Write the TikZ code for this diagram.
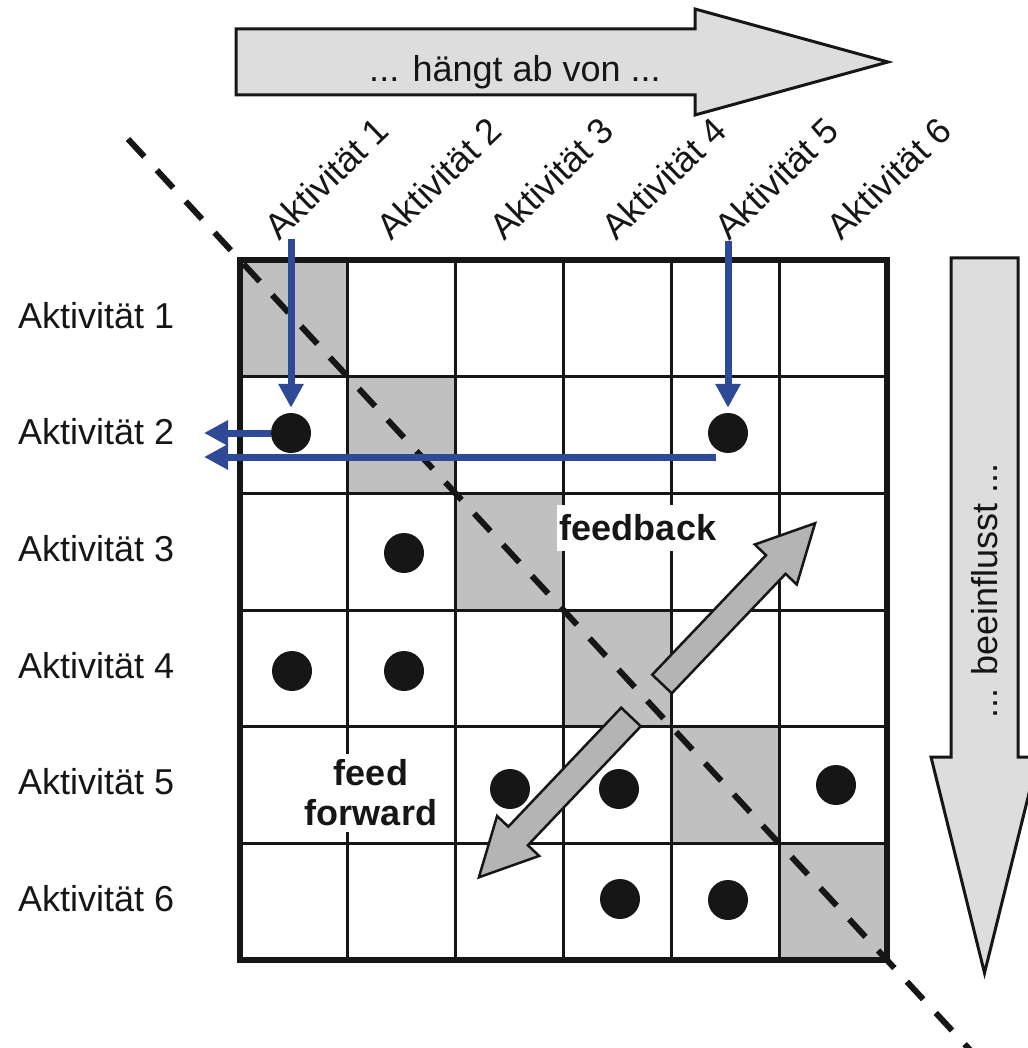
\documentclass[tikz,border=0pt]{standalone}
\usepackage{fontspec}
\setmainfont{Liberation Sans}
\usetikzlibrary{arrows.meta,calc}
\definecolor{bluearr}{RGB}{46,74,150}
\definecolor{diagfill}{RGB}{192,192,192}
\definecolor{bigfill}{RGB}{180,180,180}
\definecolor{lightfill}{RGB}{221,221,221}
\definecolor{dotfill}{RGB}{22,22,22}
\begin{document}
\begin{tikzpicture}[x=1pt,y=-1pt,
  txt/.style={font=\fontsize{36}{40}\selectfont, inner sep=0pt, text=dotfill},
  boldtxt/.style={font=\fontsize{36}{40}\selectfont\bfseries, text=dotfill},
  dot/.style={circle, fill=dotfill, minimum size=40pt, inner sep=0pt},
  gridline/.style={line width=3pt, draw=dotfill},
  bluearrow/.style={draw=bluearr, line width=7pt, -{Triangle[length=24pt,width=24pt]}},
  bigarrow/.style={draw=dotfill, line width=2.5pt, fill=bigfill, line join=miter},
  bandarrow/.style={draw=dotfill, line width=3pt, fill=lightfill, line join=miter},
  diagline/.style={draw=dotfill, line width=6pt, dash pattern=on 24pt off 18.5pt}
]
\useasboundingbox (0,0) rectangle (1027,1048);

% grid
\begin{scope}[shift={(240,260)}, x=107.83pt, y=-116.67pt]
  \foreach \i in {1,...,6} \fill[diagfill] (\i-1,\i-1) rectangle (\i,\i);
  \foreach \k in {1,...,5} {\draw[gridline] (\k,0) -- (\k,6); \draw[gridline] (0,\k) -- (6,\k);}
  \draw[line width=6pt, draw=dotfill] (0,0) rectangle (6,6);
\end{scope}

% diagonal
\coordinate (dstart) at (128,139);
\coordinate (dend) at (971,1051);
\draw[diagline] (dstart) -- (dend);

% top arrow
\draw[bandarrow] (236,29) -- (695,29) -- (695,9) -- (888,62) -- (695,115) -- (695,95) -- (236,95) -- cycle;
\node[txt, anchor=base] (hangt) at (515,82) {... hängt ab von ...};

% right arrow
\draw[bandarrow] (951,258) -- (1018,258) -- (1018,757) -- (1038,757) -- (984.5,973) -- (931,757) -- (951,757) -- cycle;
\node[txt, rotate=90] (beein) at (985,591) {... beeinflusst ...};

% row labels
\foreach \r in {1,...,6} \node[txt, anchor=base west] (row\r) at (18, {328.3+(\r-1)*116.67}) {Aktivität \r};
% column labels
\foreach \c in {1,...,6} \node[txt, anchor=base west, rotate=44] (col\c) at ({279+(\c-1)*112.5}, 242) {Aktivität \c};

% dots
\node[dot] (d21) at (291,433) {};
\node[dot] (d25) at (728,433) {};
\node[dot] (d32) at (404,553) {};
\node[dot] (d41) at (292,671) {};
\node[dot] (d42) at (404,671) {};
\node[dot] (d53) at (510,789) {};
\node[dot] (d54) at (619,789) {};
\node[dot] (d56) at (836,785) {};
\node[dot] (d64) at (620,899) {};
\node[dot] (d65) at (728,900) {};

% blue arrows
\coordinate (in1) at (291,239);
\coordinate (in5) at (728,241);
\coordinate (out1) at (204,433);
\coordinate (out2) at (204,457);
\coordinate (fbfrom) at (716,457);
\draw[bluearrow, shorten >=5pt] (in1) -- (d21.north);
\draw[bluearrow, shorten >=5pt] (in5) -- (d25.north);
\draw[bluearrow] (d21.west) -- (out1);
\draw[bluearrow] (fbfrom) -- (out2);

% big arrows
\begin{scope}[shift={(662,684)}, rotate=46.4]
\draw[bigarrow] (0,-13.5) -- (165,-13.5) -- (165,-29) -- (222,0) -- (165,29) -- (165,13.5) -- (0,13.5) -- cycle;
\end{scope}
\begin{scope}[shift={(631,717)}, rotate=226.5]
\draw[bigarrow] (0,-13.5) -- (164,-13.5) -- (164,-29) -- (221,0) -- (164,29) -- (164,13.5) -- (0,13.5) -- cycle;
\end{scope}

% labels
\node[boldtxt, fill=white, inner xsep=3pt, minimum height=46pt] (fb) at (638,528) {feedback};
\node[boldtxt, fill=white, align=center, inner sep=6pt] (ff) at (371,793) {feed\\forward};
\end{tikzpicture}
\end{document}
